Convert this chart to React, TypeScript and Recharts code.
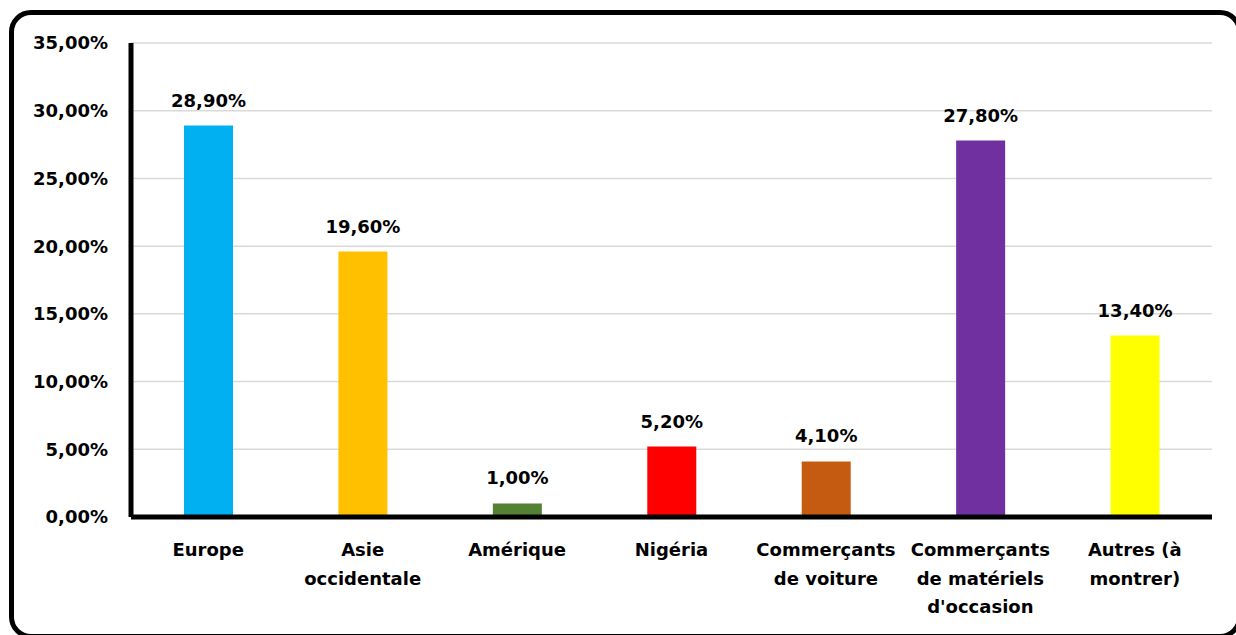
import React from "react";
import {
  BarChart,
  Bar,
  Cell,
  XAxis,
  YAxis,
  CartesianGrid,
  LabelList,
} from "recharts";

// Parts de chaque provenance (en %)
const categories = [
  "Europe",
  "Asie\noccidentale",
  "Amérique",
  "Nigéria",
  "Commerçants\nde voiture",
  "Commerçants\nde matériels\nd'occasion",
  "Autres (à\nmontrer)",
];
const shares = [28.9, 19.6, 1.0, 5.2, 4.1, 27.8, 13.4];
const barColors = [
  "#00B0F0",
  "#FFC000",
  "#548235",
  "#FF0000",
  "#C55A11",
  "#7030A0",
  "#FFFF00",
];
const yTicks = [0, 5, 10, 15, 20, 25, 30, 35];

const FONT = "'DejaVu Sans', sans-serif";

const data = categories.map((name, i) => ({ name, value: shares[i] }));

const pct = (v: number) => v.toFixed(2).replace(".", ",") + "%";

const CategoryTick = ({ x, y, payload }: any) => {
  const lines = String(payload.value).split("\n");
  return (
    <text
      x={x}
      y={y}
      textAnchor="middle"
      fill="#000"
      fontFamily={FONT}
      fontWeight={700}
      fontSize={18}
    >
      {lines.map((line, i) => (
        <tspan key={i} x={x} dy={i === 0 ? 39 : 28.5}>
          {line}
        </tspan>
      ))}
    </text>
  );
};

export default function App() {
  return (
    <div
      style={{
        position: "fixed",
        left: 0,
        top: 0,
        width: 1236,
        height: 635,
        overflow: "hidden",
        background: "#fff",
      }}
    >
      {/* cadre arrondi, coupé à droite et en bas */}
      <div
        style={{
          position: "absolute",
          left: 9,
          top: 10,
          width: 1233,
          height: 629,
          border: "5px solid #000",
          borderRadius: 22,
          boxSizing: "border-box",
        }}
      />
      <div style={{ position: "absolute", left: 0, top: 0 }}>
        <BarChart
          width={1236}
          height={635}
          data={data}
          margin={{ top: 43, right: 24, left: 0, bottom: 18 }}
        >
          <CartesianGrid
            vertical={false}
            stroke="#d9d9d9"
            strokeWidth={1.5}
          />
          <XAxis
            dataKey="name"
            interval={0}
            height={100}
            tickLine={false}
            tickSize={0}
            tickMargin={0}
            axisLine={{ stroke: "#000", strokeWidth: 5 }}
            tick={<CategoryTick />}
          />
          <YAxis
            width={131}
            domain={[0, 35]}
            ticks={yTicks}
            interval={0}
            tickLine={false}
            tickSize={0}
            tickMargin={23}
            axisLine={{ stroke: "#000", strokeWidth: 5 }}
            tickFormatter={pct}
            tick={{
              fill: "#000",
              fontSize: 18,
              fontWeight: 700,
              fontFamily: FONT,
            }}
          />
          <Bar dataKey="value" barSize={49} isAnimationActive={false}>
            {data.map((d, i) => (
              <Cell key={d.name} fill={barColors[i]} />
            ))}
            <LabelList
              dataKey="value"
              position="top"
              offset={19}
              formatter={(v: any) => pct(Number(v))}
              fill="#000"
              fontSize={18}
              fontWeight={700}
              fontFamily={FONT}
            />
          </Bar>
        </BarChart>
      </div>
    </div>
  );
}
